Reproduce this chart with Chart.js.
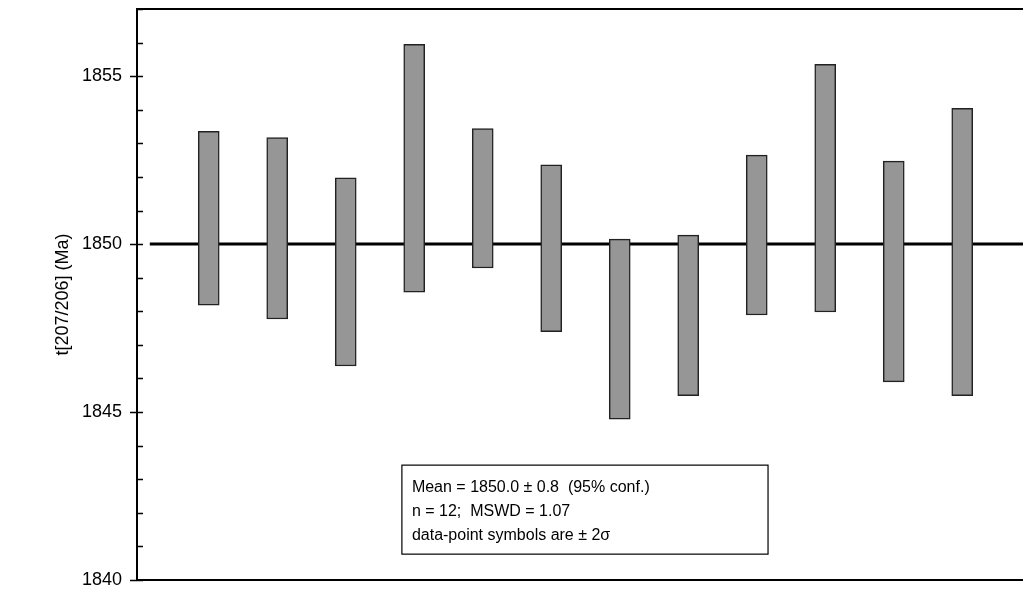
<!DOCTYPE html>
<html>
<head>
<meta charset="utf-8">
<script src="https://cdn.jsdelivr.net/npm/chart.js@4/dist/chart.umd.min.js"></script>
<style>
  html, body { margin: 0; padding: 0; background: #fff; }
  #wrap { width: 1023px; height: 592px; }
</style>
</head>
<body>
<div id="wrap"><canvas id="myChart" width="1023" height="592"></canvas></div>
<script>
// analysis number (x position) and the +/- 2 sigma range of each age
var analyses = [1, 2, 3, 4, 5, 6, 7, 8, 9, 10, 11, 12];
var ageLow  = [1848.18, 1847.77, 1846.37, 1848.57, 1849.29, 1847.39, 1844.79, 1845.49, 1847.89, 1847.98, 1845.90, 1845.49];
var ageHigh = [1853.36, 1853.17, 1851.97, 1855.95, 1853.44, 1852.36, 1850.15, 1850.27, 1852.65, 1855.35, 1852.47, 1854.04];
var meanAge = 1850.0;
var yTicks = [1840, 1845, 1850, 1855];
var boxLines = [
  'Mean = 1850.0 \u00b1 0.8  (95% conf.)',
  'n = 12;  MSWD = 1.07',
  'data-point symbols are \u00b1 2\u03c3'
];

var X_MIN = -0.047, X_MAX = 12.887;
var FONT = '"Liberation Sans", Arial, sans-serif';

var bars = analyses.map(function (a, i) {
  return { x: a, y: [ageLow[i], ageHigh[i]] };
});

// frame, tick marks and the statistics box
var extras = {
  id: 'extras',
  beforeDatasetsDraw: function (chart) {
    var c = chart.ctx, a = chart.chartArea, ys = chart.scales.y;
    c.save();
    c.strokeStyle = '#000';
    c.lineWidth = 2;
    c.beginPath();
    c.moveTo(a.left, a.top); c.lineTo(a.right, a.top);
    c.moveTo(a.left, a.bottom); c.lineTo(a.right, a.bottom);
    c.stroke();
    c.lineWidth = 1.3;
    c.beginPath();
    for (var v = 1840; v <= 1857; v++) {
      var y = Math.round(ys.getPixelForValue(v)) + 0.5;
      var major = yTicks.indexOf(v) >= 0;
      c.moveTo(major ? a.left - 7 : a.left, y);
      c.lineTo(a.left + 6, y);
    }
    c.stroke();
    c.restore();
  },
  afterDatasetsDraw: function (chart) {
    var c = chart.ctx, xs = chart.scales.x, ys = chart.scales.y;
    var l = xs.getPixelForValue(3.82), r = xs.getPixelForValue(9.165);
    var t = ys.getPixelForValue(1843.42), b = ys.getPixelForValue(1840.77);
    c.save();
    c.fillStyle = '#fff';
    c.fillRect(l, t, r - l, b - t);
    c.strokeStyle = '#000';
    c.lineWidth = 1.2;
    c.strokeRect(l, t, r - l, b - t);
    c.fillStyle = '#000';
    c.font = '16px ' + FONT;
    c.textBaseline = 'middle';
    boxLines.forEach(function (s, i) {
      c.fillText(s, l + 10, t + 22 + i * 24);
    });
    c.restore();
  }
};

var ctx = document.getElementById('myChart').getContext('2d');

var chart = new Chart(ctx, {
  type: 'bar',
  data: {
    datasets: [
      {
        type: 'bar',
        data: bars,
        backgroundColor: '#969696',
        borderColor: '#222',
        borderWidth: 1.5,
        borderSkipped: false,
        barThickness: 21,
        grouped: false,
        order: 0
      },
      {
        type: 'line',
        data: [{ x: 0.14, y: meanAge }, { x: X_MAX, y: meanAge }],
        borderColor: '#000',
        borderWidth: 3,
        pointRadius: 0,
        order: 1
      }
    ]
  },
  options: {
    responsive: false,
    animation: false,
    layout: { autoPadding: false, padding: { left: 52, top: 9, right: 0, bottom: 12 } },
    plugins: {
      legend: { display: false },
      tooltip: { enabled: false }
    },
    scales: {
      x: {
        type: 'linear',
        min: X_MIN,
        max: X_MAX,
        offset: false,
        display: false
      },
      y: {
        min: 1840,
        max: 1857,
        afterFit: function (s) {
          s.width = 85;
          s.paddingTop = 0;
          s.paddingBottom = 0;
        },
        border: { display: true, color: '#000', width: 2 },
        grid: { display: false, drawTicks: false },
        ticks: {
          stepSize: 5,
          padding: 15,
          color: '#000',
          font: { family: FONT, size: 18 },
          callback: function (v) { return yTicks.indexOf(v) >= 0 ? v : ''; }
        },
        title: {
          display: true,
          text: 't[207/206] (Ma)',
          color: '#000',
          padding: 0,
          font: { family: FONT, size: 18 }
        }
      }
    }
  },
  plugins: [extras]
});
</script>
</body>
</html>
